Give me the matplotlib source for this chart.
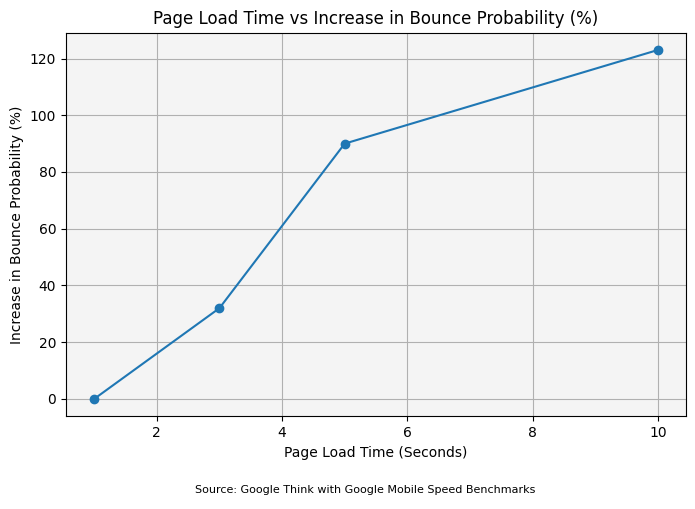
import matplotlib
matplotlib.use("Agg")
import matplotlib.pyplot as plt

# page load time (seconds) vs increase in bounce probability (%)
load_time = [1, 3, 5, 10]
bounce_increase = [0, 32, 90, 123]

fig, ax = plt.subplots(figsize=(6.95, 5.09), dpi=100)
fig.subplots_adjust(left=0.095, right=0.987, top=0.936, bottom=0.182)

ax.plot(load_time, bounce_increase, marker='o', color='#1f77b4')
ax.set_facecolor('#f4f4f4')
ax.grid(True, color='#b0b0b0')
ax.set_axisbelow(True)

ax.set_title("Page Load Time vs Increase in Bounce Probability (%)")
ax.set_xlabel("Page Load Time (Seconds)")
ax.set_ylabel("Increase in Bounce Probability (%)")

fig.text(0.525, 0.031, "Source: Google Think with Google Mobile Speed Benchmarks",
         ha='center', fontsize=8)

fig.savefig("out.png", dpi=100)
